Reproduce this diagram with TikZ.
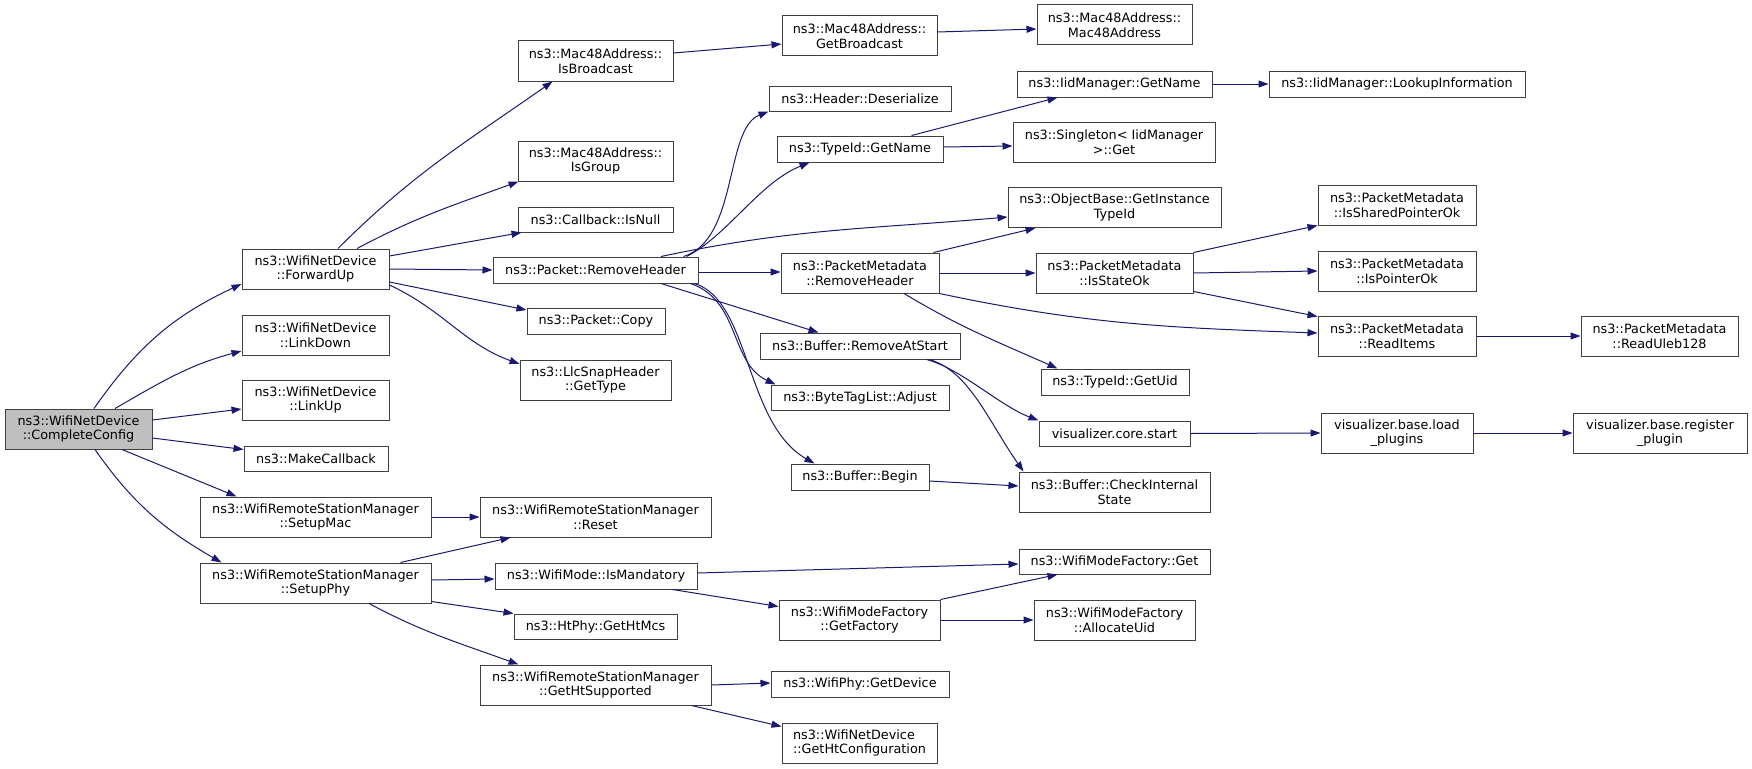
\documentclass[tikz,border=0pt]{standalone}
\usepackage{fontspec}
\setmainfont{DejaVu Sans}
\usetikzlibrary{arrows.meta,calc}
\definecolor{edgec}{HTML}{191970}
\definecolor{nodeb}{HTML}{404040}
\definecolor{rootf}{HTML}{BFBFBF}
\newcommand\bx[7][]{\node[nd,#1,minimum width=#5pt,minimum height=#6pt] (#2) at (#3,-#4) {#7};}
\begin{document}
\begin{tikzpicture}[x=1pt,y=1pt,
  nd/.style={draw=nodeb, line width=1pt, fill=white, inner sep=0pt, align=center,
    font=\fontsize{12.8}{14.7}\selectfont},
  edg/.style={draw=edgec, line width=1pt, -{Triangle[length=10pt,width=7pt]}}]
\useasboundingbox (0,0) rectangle (1752,-768);
% nodes
\bx[fill=rootf]{cc}{78.5}{429}{147}{40}{ns3::WifiNetDevice\\::CompleteConfig}
\bx{fu}{315.5}{269}{147}{40}{ns3::WifiNetDevice\\::ForwardUp}
\bx{ld}{315.5}{335}{147}{40}{ns3::WifiNetDevice\\::LinkDown}
\bx{lu}{315.5}{400}{147}{40}{ns3::WifiNetDevice\\::LinkUp}
\bx{mc}{316}{458.5}{144}{25}{ns3::MakeCallback}
\bx{sm}{315.5}{517}{231}{40}{ns3::WifiRemoteStationManager\\::SetupMac}
\bx{sp}{315.5}{583}{231}{40}{ns3::WifiRemoteStationManager\\::SetupPhy}
\bx{ib}{595.5}{61}{155}{40}{ns3::Mac48Address::\\IsBroadcast}
\bx{ig}{595.5}{161}{155}{40}{ns3::Mac48Address::\\IsGroup}
\bx{inl}{595.5}{219.5}{155}{25}{ns3::Callback::IsNull}
\bx{prh}{595.5}{270}{205}{26}{ns3::Packet::RemoveHeader}
\bx{pc}{596}{321}{138}{26}{ns3::Packet::Copy}
\bx{llc}{595.5}{380}{151}{40}{ns3::LlcSnapHeader\\::GetType}
\bx{rst}{595.5}{517}{231}{40}{ns3::WifiRemoteStationManager\\::Reset}
\bx{im}{596}{576}{202}{26}{ns3::WifiMode::IsMandatory}
\bx{hm}{595.5}{626.5}{163}{25}{ns3::HtPhy::GetHtMcs}
\bx{ghs}{595.5}{685}{231}{40}{ns3::WifiRemoteStationManager\\::GetHtSupported}
\bx{gb}{859.5}{36}{155}{40}{ns3::Mac48Address::\\GetBroadcast}
\bx{hd}{860}{98.5}{182}{25}{ns3::Header::Deserialize}
\bx{tgn}{860}{149}{166}{26}{ns3::TypeId::GetName}
\bx{pmrh}{860}{273}{158}{40}{ns3::PacketMetadata\\::RemoveHeader}
\bx{ras}{860}{346}{200}{26}{ns3::Buffer::RemoveAtStart}
\bx{bta}{860}{397.5}{178}{25}{ns3::ByteTagList::Adjust}
\bx{bb}{860}{477}{138}{26}{ns3::Buffer::Begin}
\bx{gf}{859.5}{620}{161}{40}{ns3::WifiModeFactory\\::GetFactory}
\bx{gd}{860}{684}{178}{26}{ns3::WifiPhy::GetDevice}
\bx[align=left]{ghc}{859.5}{743}{155}{40}{ns3::WifiNetDevice\\::GetHtConfiguration}
\bx{mac}{1114.5}{25}{155}{40}{ns3::Mac48Address::\\Mac48Address}
\bx{ign}{1114.5}{84}{195}{26}{ns3::IidManager::GetName}
\bx{sg}{1114}{142.5}{202}{40}{ns3::Singleton< IidManager\\>::Get}
\bx{git}{1114.5}{207.5}{213}{40}{ns3::ObjectBase::GetInstance\\TypeId}
\bx{iso}{1114.5}{273}{157}{40}{ns3::PacketMetadata\\::IsStateOk}
\bx{gu}{1115}{382}{148}{26}{ns3::TypeId::GetUid}
\bx{vcs}{1114.5}{433.5}{151}{25}{visualizer.core.start}
\bx{cis}{1114.5}{492}{191}{40}{ns3::Buffer::CheckInternal\\State}
\bx{wmg}{1114.5}{561.5}{191}{25}{ns3::WifiModeFactory::Get}
\bx{au}{1114.5}{620}{161}{40}{ns3::WifiModeFactory\\::AllocateUid}
\bx{li}{1397}{84}{256}{26}{ns3::IidManager::LookupInformation}
\bx{ispo}{1397}{205}{158}{40}{ns3::PacketMetadata\\::IsSharedPointerOk}
\bx{ipo}{1397}{271}{158}{40}{ns3::PacketMetadata\\::IsPointerOk}
\bx{ri}{1397}{336}{158}{40}{ns3::PacketMetadata\\::ReadItems}
\bx{lp}{1397}{433}{152}{40}{visualizer.base.load\\\_plugins}
\bx{ru}{1659.5}{336}{157}{40}{ns3::PacketMetadata\\::ReadUleb128}
\bx{rp}{1660}{433}{174}{40}{visualizer.base.register\\\_plugin}
% edges
\draw[edg] ([xshift=15.5pt]cc.north) to[out=55,in=205] ([yshift=-15pt]fu.west);
\draw[edg] ([xshift=36.5pt]cc.north) to[out=30,in=195] ([yshift=-16pt]ld.west);
\draw[edg] ([yshift=9pt]cc.east) -- ([yshift=-9pt]lu.west);
\draw[edg] ([yshift=-9pt]cc.east) -- ([yshift=9pt]mc.west);
\draw[edg] ([xshift=43.5pt]cc.south) -- ([xshift=37pt]sm.north west);
\draw[edg] ([xshift=16.5pt]cc.south) to[out=-55,in=150] ([xshift=22pt]sp.north west);
\draw[edg] ([xshift=22.5pt]fu.north) to[out=45,in=215] ([xshift=35pt]ib.south west);
\draw[edg] ([xshift=41.5pt]fu.north) to[out=28,in=200] ([xshift=1pt]ig.south west);
\draw[edg] ([yshift=13pt]fu.east) -- ([xshift=4pt]inl.south west);
\draw[edg] (fu.east) -- (prh.west);
\draw[edg] ([yshift=-13pt]fu.east) -- ([yshift=11pt]pc.west);
\draw[edg] ([yshift=-16pt]fu.east) to[out=-25,in=160] ([yshift=16pt]llc.west);
\draw[edg] ([yshift=8pt]ib.east) -- ([yshift=-8pt]gb.west);
\draw[edg] ([yshift=4pt]gb.east) -- ([yshift=-4pt]mac.west);
\draw[edg] ([xshift=-15pt]prh.north east) .. controls +(55,17) and +(-44,-17) .. (hd.south west);
\draw[edg] ([xshift=-12pt]prh.north east) .. controls +(40,20) and +(-50,-20) .. ([xshift=33pt]tgn.south west);
\draw[edg] ([xshift=65.5pt]prh.north) to[out=12,in=185] ([yshift=-9.5pt]git.west);
\draw[edg] ([yshift=-2pt]prh.east) -- ([yshift=1pt]pmrh.west);
\draw[edg] ([xshift=65.5pt]prh.south) -- ([xshift=59pt]ras.north west);
\draw[edg] ([xshift=-8pt]prh.south east) .. controls +(50,-17) and +(-46,22) .. ([xshift=5pt]bta.north west);
\draw[edg] ([xshift=-4pt]prh.south east) .. controls +(56,-17) and +(-70,40) .. ([xshift=24pt]bb.north west);
\draw[edg] ([xshift=-32pt]tgn.north east) -- ([xshift=41pt]ign.south west);
\draw[edg] ([yshift=2pt]tgn.east) -- ([yshift=-3.5pt]sg.west);
\draw[edg] (ign.east) -- (li.west);
\draw[edg] ([xshift=-6pt]pmrh.north east) -- ([xshift=28pt]git.south west);
\draw[edg] (pmrh.east) -- (iso.west);
\draw[edg] (pmrh.south east) to[out=-12,in=178] ([yshift=3pt]ri.west);
\draw[edg] ([xshift=44pt]pmrh.south) to[out=-31,in=156] ([xshift=17pt]gu.north west);
\draw[edg] (iso.north east) -- (ispo.south west);
\draw[edg] (iso.east) -- (ipo.west);
\draw[edg] ([yshift=2pt]iso.south east) -- ([yshift=-1pt]ri.north west);
\draw[edg] (ri.east) -- (ru.west);
\draw[edg] ([xshift=-34pt]ras.south east) .. controls +(34,-9) and +(-39,15) .. (vcs.north west);
\draw[edg] ([xshift=-31pt]ras.south east) .. controls +(40,-12) and +(-35,50) .. ([xshift=5pt]cis.north west);
\draw[edg] (vcs.east) -- (lp.west);
\draw[edg] (lp.east) -- (rp.west);
\draw[edg] ([yshift=-4pt]bb.east) -- ([yshift=6pt]cis.west);
\draw[edg] ([yshift=3pt]im.east) -- ([yshift=-2.5pt]wmg.west);
\draw[edg] ([xshift=-25pt]im.south east) -- ([yshift=-7pt]gf.north west);
\draw[edg] (gf.north east) -- ([xshift=39pt]wmg.south west);
\draw[edg] (gf.east) -- (au.west);
\draw[edg] (ghs.east) -- ([yshift=1pt]gd.west);
\draw[edg] ([xshift=-20pt]ghs.south east) -- ([yshift=-4pt]ghc.north west);
\draw[edg] (sm.east) -- (rst.west);
\draw[edg] ([xshift=-31pt]sp.north east) -- ([xshift=31pt]rst.south west);
\draw[edg] ([yshift=3pt]sp.east) -- ([yshift=-3pt]im.west);
\draw[edg] ([yshift=2pt]sp.south east) -- (hm.north west);
\draw[edg] ([xshift=53.5pt]sp.south) to[out=-28,in=160] ([xshift=39pt]ghs.north west);
\end{tikzpicture}
\end{document}
